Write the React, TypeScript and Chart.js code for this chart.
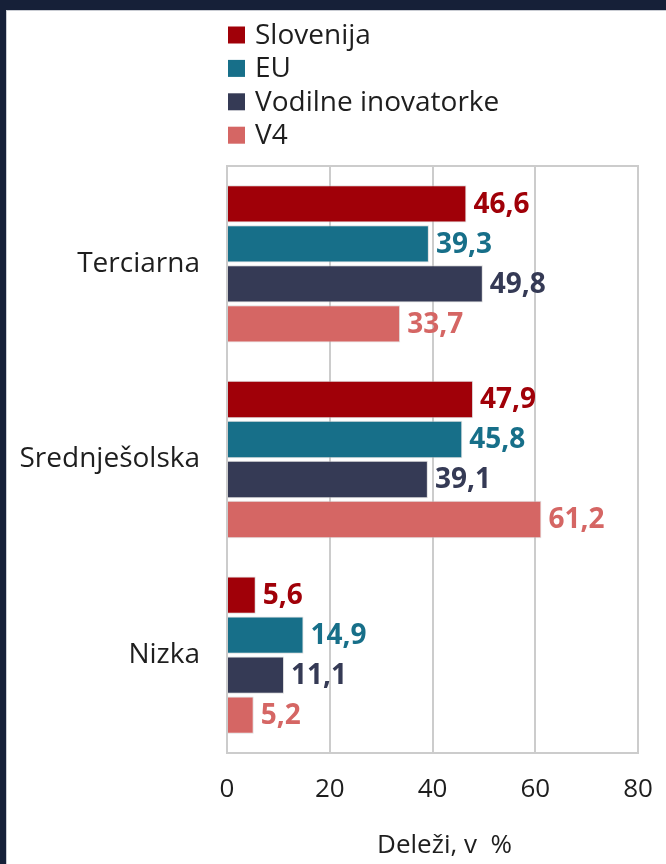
import React, { useEffect, useRef } from "react";
import { Chart, registerables } from "chart.js";

Chart.register(...registerables);

const categories = ["Terciarna", "Srednješolska", "Nizka"];
const seriesNames = ["Slovenija", "EU", "Vodilne inovatorke", "V4"];
const slovenija = [46.6, 47.9, 5.6];
const eu = [39.3, 45.8, 14.9];
const vodilne = [49.8, 39.1, 11.1];
const v4 = [33.7, 61.2, 5.2];
const xTicks = [0, 20, 40, 60, 80];
const axisTitle = "Deleži, v  %";

const seriesColors = ["#a00008", "#176f89", "#353a55", "#d56664"];
const FONT = "'Open Sans', 'Noto Sans', sans-serif";
const TEXT = "#1e1e1e";
const GRID = "#cccccc";

const framePlugin = {
  id: "frame",
  beforeDatasetsDraw(chart: any) {
    const { ctx, chartArea } = chart;
    ctx.save();
    ctx.strokeStyle = GRID;
    ctx.lineWidth = 2;
    ctx.strokeRect(chartArea.left, chartArea.top, chartArea.right - chartArea.left, chartArea.bottom - chartArea.top);
    ctx.restore();
  },
};

const valueLabelPlugin = {
  id: "valueLabels",
  afterDatasetsDraw(chart: any) {
    const { ctx } = chart;
    ctx.save();
    ctx.font = `bold 28px ${FONT}`;
    ctx.textAlign = "left";
    ctx.textBaseline = "middle";
    chart.data.datasets.forEach((ds: any, di: number) => {
      const meta = chart.getDatasetMeta(di);
      meta.data.forEach((el: any, i: number) => {
        const v = ds.data[i] as number;
        ctx.fillStyle = ds.backgroundColor;
        ctx.fillText(v.toFixed(1).replace(".", ","), el.x + 7, el.y + 1);
      });
    });
    ctx.restore();
  },
};

const legendPlugin = {
  id: "customLegend",
  afterDraw(chart: any) {
    const { ctx, chartArea } = chart;
    ctx.save();
    ctx.font = `28px ${FONT}`;
    ctx.textAlign = "left";
    ctx.textBaseline = "middle";
    chart.data.datasets.forEach((ds: any, i: number) => {
      const cy = 25 + i * 33.4;
      ctx.fillStyle = ds.backgroundColor;
      ctx.fillRect(222, cy - 8.5, 17, 17);
      ctx.fillStyle = TEXT;
      ctx.fillText(ds.label, 249, cy + 1);
    });
    // x-axis title
    ctx.font = `26px ${FONT}`;
    ctx.textAlign = "center";
    ctx.fillStyle = TEXT;
    ctx.fillText(axisTitle, (chartArea.left + chartArea.right) / 2 + 12, 836);
    ctx.restore();
  },
};

export default function App() {
  const canvasRef = useRef<HTMLCanvasElement | null>(null);

  useEffect(() => {
    if (!canvasRef.current) return;
    const seriesData = [slovenija, eu, vodilne, v4];
    const chart = new Chart(canvasRef.current, {
      type: "bar",
      data: {
        labels: categories,
        datasets: seriesNames.map((name, i) => ({
          label: name,
          data: seriesData[i],
          backgroundColor: seriesColors[i],
          borderColor: "rgba(200,200,200,0.6)",
          borderWidth: 1,
          categoryPercentage: 0.8176,
          barPercentage: 0.933,
        })),
      },
      options: {
        indexAxis: "y",
        animation: false,
        responsive: false,
        maintainAspectRatio: false,
        layout: { padding: { top: 156, right: 28, left: 0, bottom: 0 } },
        plugins: {
          legend: { display: false },
          tooltip: { enabled: false },
          title: { display: false },
        },
        scales: {
          x: {
            type: "linear",
            min: xTicks[0],
            max: xTicks[xTicks.length - 1],
            afterBuildTicks: (scale: any) => {
              scale.ticks = xTicks.map((v) => ({ value: v }));
            },
            afterFit: (scale: any) => {
              scale.height = 111;
              scale.paddingLeft = 0;
              scale.paddingRight = 0;
            },
            grid: { color: GRID, lineWidth: 2, drawTicks: false },
            border: { display: false },
            ticks: {
              color: TEXT,
              font: { family: FONT, size: 26 },
              padding: 21,
              callback: (v: any) => String(v),
            },
          },
          y: {
            type: "category",
            afterFit: (scale: any) => {
              scale.width = 221;
            },
            grid: { display: false, drawTicks: false },
            border: { display: false },
            ticks: {
              color: TEXT,
              font: { family: FONT, size: 28 },
              padding: 27,
            },
          },
        },
      },
      plugins: [framePlugin, valueLabelPlugin, legendPlugin],
    });
    return () => chart.destroy();
  }, []);

  return (
    <div
      style={{
        position: "fixed",
        left: 0,
        top: 0,
        width: 666,
        height: 864,
        background: "#162038",
        overflow: "hidden",
      }}
    >
      <div
        style={{
          position: "absolute",
          left: 6,
          top: 10,
          width: 660,
          height: 854,
          background: "#ffffff",
          boxShadow: "inset 1px 1px 0 #c9ccd3",
        }}
      >
        <canvas ref={canvasRef} width={660} height={854} style={{ display: "block", width: 660, height: 854 }} />
      </div>
    </div>
  );
}
